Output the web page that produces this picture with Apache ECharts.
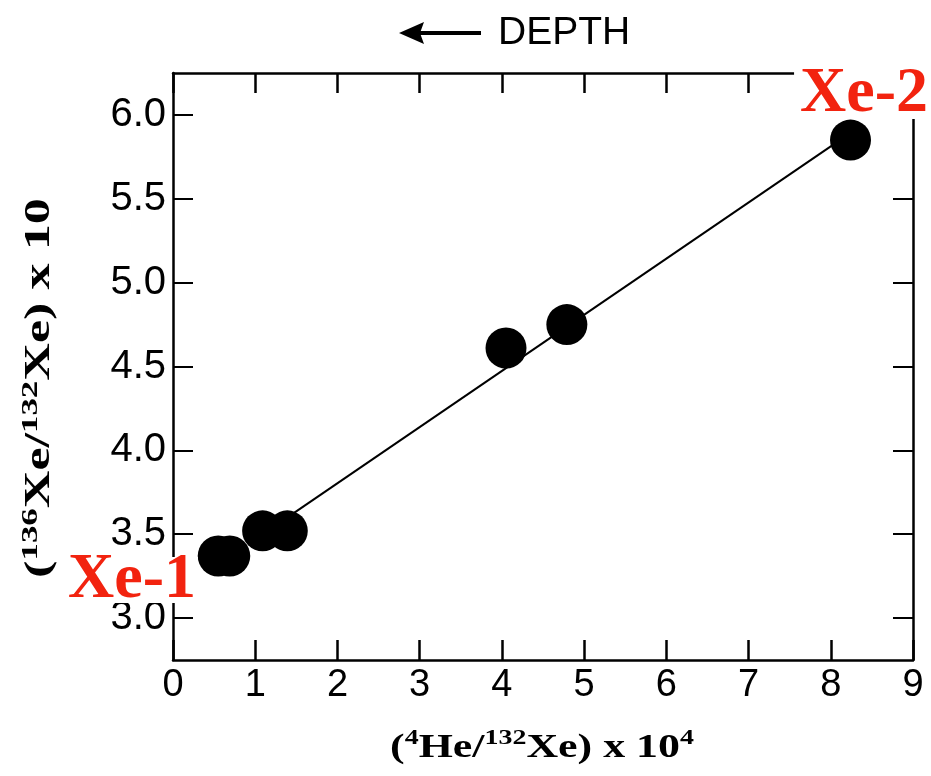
<!DOCTYPE html>
<html>
<head>
<meta charset="utf-8">
<script src="https://cdn.jsdelivr.net/npm/echarts@6/dist/echarts.min.js"></script>
<style>html,body{margin:0;padding:0;background:#fff;}#c{width:931px;height:776px;}</style>
</head>
<body>
<div id="c"></div>
<script>
// data
var heRatio = [0.55, 0.69, 1.09, 1.39, 4.05, 4.79, 8.24];
var xeRatio = [3.37, 3.37, 3.52, 3.52, 4.61, 4.75, 5.85];
var fitX = [1.45, 8.20];
var fitY = [3.62, 5.88];
var xTicks = [0, 1, 2, 3, 4, 5, 6, 7, 8, 9];
var yTicks = [3.0, 3.5, 4.0, 4.5, 5.0, 5.5, 6.0];

var points = heRatio.map(function (x, i) { return [x, xeRatio[i]]; });
var fit = fitX.map(function (x, i) { return [x, fitY[i]]; });

var chart = echarts.init(document.getElementById('c'));
var tickFont = 'Liberation Sans';
var serif = 'Liberation Serif';

function xAxisCfg(pos, showLabel) {
  return {
    type: 'value', position: pos, min: 0, max: 9, interval: 1,
    axisLine: { show: true, onZero: false, lineStyle: { color: '#000', width: 2.5 } },
    axisTick: { show: true, inside: true, length: 20, lineStyle: { color: '#000', width: 2.5 } },
    axisLabel: { show: showLabel, color: '#000', fontSize: 38, fontFamily: tickFont, margin: 7 },
    splitLine: { show: false }
  };
}
function yAxisCfg(pos, showLabel) {
  return {
    type: 'value', position: pos, min: 2.75, max: 6.25,
    axisLine: { show: true, onZero: false, lineStyle: { color: '#000', width: 2.5 } },
    axisTick: { show: true, inside: true, length: 20, customValues: yTicks, lineStyle: { color: '#000', width: 2 } },
    axisLabel: { show: showLabel, customValues: yTicks, color: '#000', fontSize: 40, fontFamily: tickFont, margin: 7,
      formatter: function (v) { return v.toFixed(1); } },
    splitLine: { show: false }
  };
}

function titleRich(F, S) {
  return {
    p: { fontSize: F, fontWeight: 'bold', fontFamily: serif, fill: '#000', lineHeight: F + 6 },
    s: { fontSize: S, fontWeight: 'bold', fontFamily: serif, fill: '#000', verticalAlign: 'top', lineHeight: S + 2, padding: [0, 0, F - S, 0] }
  };
}

chart.setOption({
  backgroundColor: '#fff',
  animation: false,
  grid: { left: 173, right: 18, top: 73, bottom: 116 },
  xAxis: [xAxisCfg('bottom', true), xAxisCfg('top', false)],
  yAxis: [yAxisCfg('left', true), yAxisCfg('right', false)],
  series: [
    {
      type: 'line', data: fit, symbol: 'none', z: 2,
      lineStyle: { color: '#000', width: 2 }
    },
    {
      type: 'scatter', data: points, symbol: 'circle', symbolSize: 41, z: 3,
      itemStyle: { color: '#000', opacity: 1 }
    }
  ],
  graphic: [
    {
      type: 'text', x: 542, y: 748, scaleX: 1.33, z: 10,
      style: {
        text: '{p|(}{s|4}{p|He/}{s|132}{p|Xe) x 10}{s|4}',
        rich: titleRich(33, 21),
        align: 'center', verticalAlign: 'middle'
      }
    },
    {
      type: 'text', x: 40, y: 388, rotation: Math.PI / 2, scaleX: 1.45, z: 10,
      style: {
        text: '{p|(}{s|136}{p|Xe/}{s|132}{p|Xe) x 10}',
        rich: titleRich(36, 24),
        align: 'center', verticalAlign: 'middle'
      }
    },
    {
      type: 'text', x: 498, y: 33, z: 10,
      style: { text: 'DEPTH', fontSize: 39, fontFamily: tickFont, fill: '#000', verticalAlign: 'middle', align: 'left' }
    },
    {
      type: 'line', z: 10,
      shape: { x1: 420, y1: 33, x2: 481, y2: 33 },
      style: { stroke: '#000', lineWidth: 4 }
    },
    {
      type: 'polygon', z: 10,
      shape: { points: [[399, 33], [424, 22], [420, 33], [424, 44]] },
      style: { fill: '#000' }
    },
    {
      type: 'text', x: 66, y: 580, z: 20,
      style: {
        text: 'Xe-1', fontSize: 64, fontWeight: 'bold', fontFamily: serif, fill: '#f2230f', lineHeight: 46,
        backgroundColor: '#fff', verticalAlign: 'middle', align: 'left', padding: [0, 2, 0, 2]
      }
    },
    {
      type: 'text', x: 931, y: 94, z: 20,
      style: {
        text: 'Xe-2', fontSize: 64, fontWeight: 'bold', fontFamily: serif, fill: '#f2230f', lineHeight: 50,
        backgroundColor: '#fff', verticalAlign: 'middle', align: 'right', padding: [0, 3, 0, 6]
      }
    }
  ]
});
</script>
</body>
</html>
